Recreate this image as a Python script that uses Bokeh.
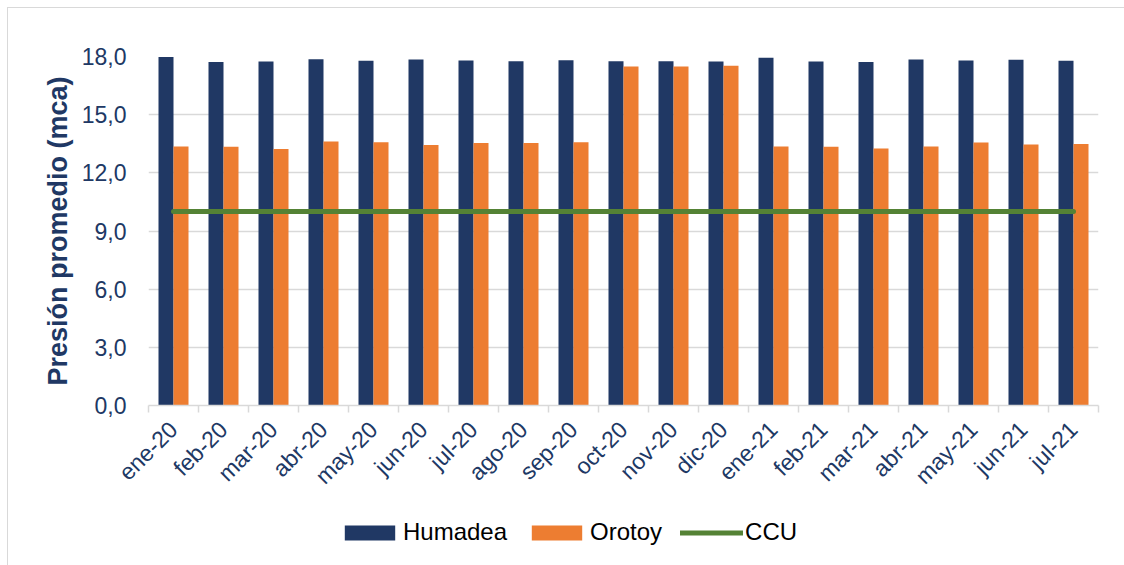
import math
from bokeh.plotting import figure
from bokeh.layouts import column
from bokeh.models import ColumnDataSource, FixedTicker, Legend, LegendItem, Range1d
from bokeh.embed import file_html
from bokeh.resources import INLINE

months = ["ene-20", "feb-20", "mar-20", "abr-20", "may-20", "jun-20", "jul-20",
          "ago-20", "sep-20", "oct-20", "nov-20", "dic-20", "ene-21", "feb-21",
          "mar-21", "abr-21", "may-21", "jun-21", "jul-21"]
humadea = [17.98, 17.72, 17.74, 17.86, 17.78, 17.85, 17.79, 17.76, 17.81, 17.76,
           17.76, 17.74, 17.93, 17.74, 17.72, 17.85, 17.79, 17.83, 17.78]
orotoy = [13.36, 13.34, 13.23, 13.61, 13.58, 13.44, 13.54, 13.54, 13.58, 17.49,
          17.49, 17.52, 13.36, 13.34, 13.25, 13.36, 13.56, 13.46, 13.49]
ccu = [10.0, 10.0, 10.0, 10.0, 10.0, 10.0, 10.0, 10.0, 10.0, 10.0,
       10.0, 10.0, 10.0, 10.0, 10.0, 10.0, 10.0, 10.0, 10.0]
y_ticks = [0, 3, 6, 9, 12, 15, 18]
y_tick_labels = ["0,0", "3,0", "6,0", "9,0", "12,0", "15,0", "18,0"]
series_names = ["Humadea", "Orotoy", "CCU"]

NAVY = "#203864"
ORANGE = "#ED7D31"
GREEN = "#548235"
GRID = "#d9d9d9"
FONT = "Liberation Sans"

centers = [i + 0.5 for i in range(len(months))]
source = ColumnDataSource(dict(
    month=months,
    x=centers,
    xh=[c - 0.15 for c in centers],
    xo=[c + 0.15 for c in centers],
    humadea=humadea,
    orotoy=orotoy,
    ccu=ccu,
))


def add_series(fig):
    rh = fig.vbar(x="xh", top="humadea", width=0.3, source=source, fill_color=NAVY, line_color=None)
    ro = fig.vbar(x="xo", top="orotoy", width=0.3, source=source, fill_color=ORANGE, line_color=None)
    rc = fig.line(x="x", y="ccu", source=source, line_color=GREEN, line_width=5, line_cap="round")
    return [rh, ro, rc]


p = figure(width=1117, height=500, output_backend="svg", toolbar_location=None,
           x_range=Range1d(0, len(months)), y_range=Range1d(0, 18),
           min_border_left=140, min_border_right=27, min_border_top=48,
           min_border_bottom=103, outline_line_color=None,
           margin=(7, 0, 0, 7),
           styles={"border-left": "1px solid #d9d9d9", "border-top": "1px solid #d9d9d9"})
add_series(p)

# x axis: labels at category centres, ticks at category boundaries
xa = p.xaxis[0]
xa.ticker = FixedTicker(ticks=centers, minor_ticks=list(range(len(months) + 1)))
xa.major_label_overrides = {c: m for c, m in zip(centers, months)}
xa.major_label_orientation = math.pi / 4
xa.major_tick_line_color = None
xa.minor_tick_line_color = GRID
xa.minor_tick_line_width = 1.5
xa.minor_tick_in = 0
xa.minor_tick_out = 7
xa.axis_line_color = GRID
xa.axis_line_width = 1.5
xa.major_label_standoff = 13
xa.major_label_text_font = FONT
xa.major_label_text_font_size = "23px"
xa.major_label_text_color = NAVY

# y axis
ya = p.yaxis[0]
ya.ticker = FixedTicker(ticks=y_ticks)
ya.major_label_overrides = {t: l for t, l in zip(y_ticks, y_tick_labels)}
ya.axis_line_color = None
ya.major_tick_line_color = None
ya.minor_tick_line_color = None
ya.major_label_standoff = 16
ya.major_label_text_font = FONT
ya.major_label_text_font_size = "23px"
ya.major_label_text_color = NAVY
ya.axis_label = "Presión promedio (mca)"
ya.axis_label_text_font = FONT
ya.axis_label_text_font_size = "27px"
ya.axis_label_text_font_style = "bold"
ya.axis_label_text_color = NAVY
ya.axis_label_standoff = 6

p.xgrid.visible = False
p.ygrid.grid_line_color = GRID
p.ygrid.grid_line_width = 1.5

# legend strip below the chart: same series, ranges chosen so no mark is in view
lg = figure(width=1117, height=58, output_backend="svg", toolbar_location=None,
            x_axis_type=None, y_axis_type=None, min_border=0,
            x_range=Range1d(100, 100 + len(months)), y_range=Range1d(100, 118),
            outline_line_color=None, margin=(0, 0, 0, 7),
            styles={"border-left": "1px solid #d9d9d9"})
lg.grid.visible = False
lg_renderers = add_series(lg)

legend = Legend(items=[LegendItem(label=n, renderers=[r])
                       for n, r in zip(series_names, lg_renderers)],
                orientation="horizontal", location=(190, 19),
                glyph_width=63, glyph_height=19, label_standoff=2, spacing=18,
                padding=0, margin=0, border_line_color=None,
                background_fill_alpha=0,
                label_text_font=FONT, label_text_font_size="24px",
                label_text_color="#000000")
lg.add_layout(legend, "center")

layout = column(p, lg, spacing=0)
open("out.html", "w").write(file_html(layout, INLINE))
